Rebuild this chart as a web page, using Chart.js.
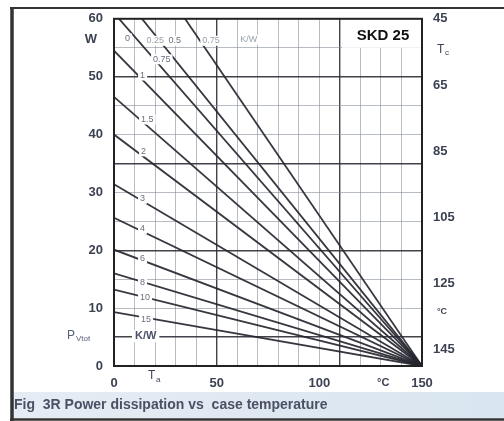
<!DOCTYPE html>
<html>
<head>
<meta charset="utf-8">
<script src="https://cdn.jsdelivr.net/npm/chart.js@4/dist/chart.umd.min.js"></script>
<style>
html, body { margin: 0; padding: 0; background: #fff; }
#wrap { width: 504px; height: 421px; }
</style>
</head>
<body>
<div id="wrap"><canvas id="myChart" width="504" height="421"></canvas></div>
<script>
// power at Ta = 0 for every heatsink line (W); all lines run down to 0 W at 150 °C
var p0 = [78, 66, 61, 54.5, 46.5, 40, 31.4, 25.6, 20.1, 16, 13.2, 9.3];
var taEnd = 150;
var taLabels = [0, 50, 100, 150];
var pLabels = [0, 10, 20, 30, 40, 50, 60];
var tcTicks = [45, 65, 85, 105, 125, 145];
// Rth(c-a) labels written on the lines: [Ta, P, text]
var lineLabels = [
  [5.4, 56.6, '0'], [15.8, 56.2, '0.25'], [26.5, 56.2, '0.5'], [43, 56.2, '0.75'], [61.5, 56.4, 'K/W'],
  [19, 53, '0.75'], [12.7, 50.2, '1'], [13.2, 42.6, '1.5'], [13.2, 37.1, '2'], [12.7, 28.9, '3'],
  [12.7, 23.7, '4'], [12.7, 18.6, '6'], [12.7, 14.4, '8'], [12.7, 11.9, '10'], [13.2, 8.1, '15']
];

var fam = '"Liberation Sans", Arial, sans-serif';
var textCol = '#3d4252';
var minorGrid = 'rgba(135,141,153,0.6)';
var majorGrid = 'rgba(45,45,55,0.9)';

var datasets = p0.map(function (p) {
  return {
    data: [{ x: 0, y: p }, { x: taEnd, y: 0 }],
    borderColor: 'rgba(38,38,48,0.92)',
    borderWidth: 1.8,
    pointRadius: 0,
    fill: false
  };
});

var extras = {
  id: 'extras',
  beforeDraw: function (chart) {
    var c = chart.ctx;
    c.save();
    c.fillStyle = '#fff';
    c.fillRect(0, 0, 504, 421);
    var g = c.createLinearGradient(0, 0, 504, 0);
    g.addColorStop(0, '#e6ecf3');
    g.addColorStop(1, '#d9e5f0');
    c.fillStyle = g;
    c.fillRect(13, 392, 491, 26);
    c.restore();
  },
  afterDatasetsDraw: function (chart) {
    var c = chart.ctx, xs = chart.scales.x, ys = chart.scales.y, a = chart.chartArea;
    c.save();
    c.textAlign = 'left';
    c.textBaseline = 'middle';
    lineLabels.forEach(function (l, i) {
      var x = xs.getPixelForValue(l[0]), y = ys.getPixelForValue(l[1]);
      c.font = '9px ' + fam;
      var w = c.measureText(l[2]).width;
      c.fillStyle = '#fff';
      c.fillRect(x - 2, y - 5, w + 4, 10);
      c.fillStyle = (i === 1 || i === 3 || i === 4) ? '#9aa0ac' : '#6a7080';
      c.fillText(l[2], x, y);
    });
    // K/W tag on the 5 W line
    var ky = ys.getPixelForValue(5.15);
    c.font = 'bold 11px ' + fam;
    var kx = xs.getPixelForValue(10.2);
    c.fillStyle = '#fff';
    c.fillRect(kx - 3, ky - 6, c.measureText('K/W').width + 6, 12);
    c.fillStyle = '#4a5068';
    c.fillText('K/W', kx, ky);
    // SKD 25 box
    c.fillStyle = '#fff';
    c.fillRect(342, a.top, a.right - 342, 29);
    c.fillStyle = '#111';
    c.font = 'bold 15px ' + fam;
    c.textAlign = 'center';
    c.fillText('SKD 25', 383, 36);
    // plot frame
    c.strokeStyle = '#222';
    c.lineWidth = 2;
    c.strokeRect(a.left, a.top, a.right - a.left, a.bottom - a.top);
    c.restore();
  },
  afterDraw: function (chart) {
    var c = chart.ctx, xs = chart.scales.x, ys = chart.scales.y, a = chart.chartArea;
    c.save();
    c.fillStyle = textCol;
    c.textBaseline = 'middle';
    c.font = 'bold 13px ' + fam;
    c.textAlign = 'right';
    c.fillText('W', 97, ys.getPixelForValue(56.4));
    c.textAlign = 'left';
    c.font = '12px ' + fam;
    c.fillStyle = '#596078';
    var py = ys.getPixelForValue(5.3);
    c.fillText('P', 67, py);
    c.font = '8px ' + fam;
    c.fillText('Vtot', 76, py + 3);
    c.font = '12px ' + fam;
    c.fillStyle = textCol;
    c.fillText('T', 148, 376);
    c.font = '8px ' + fam;
    c.fillText('a', 156, 380);
    c.font = 'bold 11px ' + fam;
    c.fillText('\u00b0C', 377, 383);
    c.font = '12px ' + fam;
    c.fillText('T', 437, 50);
    c.font = '8px ' + fam;
    c.fillText('c', 445, 53);
    c.font = 'bold 9px ' + fam;
    c.fillText('\u00b0C', 437, 312);
    // caption
    c.font = 'bold 14px ' + fam;
    c.fillStyle = '#4b5165';
    c.fillText('Fig  3R Power dissipation vs  case temperature', 14, 405);
    // scan edge: top cut and outer frame
    c.fillStyle = '#fff';
    c.fillRect(14, 9, 490, 3.5);
    c.strokeStyle = '#333';
    c.lineWidth = 2;
    c.beginPath();
    c.moveTo(10, 8);
    c.lineTo(504, 8);
    c.stroke();
    c.lineWidth = 3.5;
    c.beginPath();
    c.moveTo(12, 7);
    c.lineTo(12, 421);
    c.stroke();
    c.lineWidth = 2.5;
    c.beginPath();
    c.moveTo(10, 419.5);
    c.lineTo(504, 419.5);
    c.stroke();
    c.restore();
  }
};

var ctx = document.getElementById('myChart').getContext('2d');
var myChart = new Chart(ctx, {
  type: 'line',
  data: { datasets: datasets },
  options: {
    responsive: false,
    animation: false,
    layout: { padding: { left: 0, right: 0, top: 17, bottom: 25 } },
    plugins: { legend: { display: false }, tooltip: { enabled: false } },
    scales: {
      x: {
        type: 'linear', min: 0, max: 150,
        afterFit: function (s) { s.height = 30; },
        ticks: {
          stepSize: 10, autoSkip: false, maxRotation: 0, padding: 10,
          color: textCol, font: { family: fam, size: 13, weight: 'bold' },
          callback: function (v) { return taLabels.indexOf(v) >= 0 ? String(v) : ''; }
        },
        grid: {
          drawTicks: false,
          color: function (c) { return c.tick && (c.tick.value === 50 || c.tick.value === 110) ? majorGrid : minorGrid; },
          lineWidth: function (c) { return c.tick && (c.tick.value === 50 || c.tick.value === 110) ? 1.4 : 1; }
        },
        border: { display: false }
      },
      y: {
        type: 'linear', min: 0, max: 60,
        afterFit: function (s) { s.width = 114; },
        ticks: {
          stepSize: 5, autoSkip: false, padding: 11,
          color: textCol, font: { family: fam, size: 13, weight: 'bold' },
          callback: function (v) { return pLabels.indexOf(v) >= 0 ? String(v) : ''; }
        },
        grid: {
          drawTicks: false,
          color: function (c) { return c.tick && [5, 20, 35, 50].indexOf(c.tick.value) >= 0 ? majorGrid : minorGrid; },
          lineWidth: function (c) { return c.tick && [5, 20, 35, 50].indexOf(c.tick.value) >= 0 ? 1.4 : 1; }
        },
        border: { display: false }
      },
      y2: {
        type: 'linear', position: 'right', reverse: true, min: 45, max: 150,
        afterFit: function (s) { s.width = 82; },
        afterBuildTicks: function (s) { s.ticks = tcTicks.map(function (v) { return { value: v }; }); },
        ticks: { padding: 11, color: textCol, font: { family: fam, size: 13, weight: 'bold' } },
        grid: { drawOnChartArea: false, drawTicks: false },
        border: { display: false }
      }
    }
  },
  plugins: [extras]
});
</script>
</body>
</html>
